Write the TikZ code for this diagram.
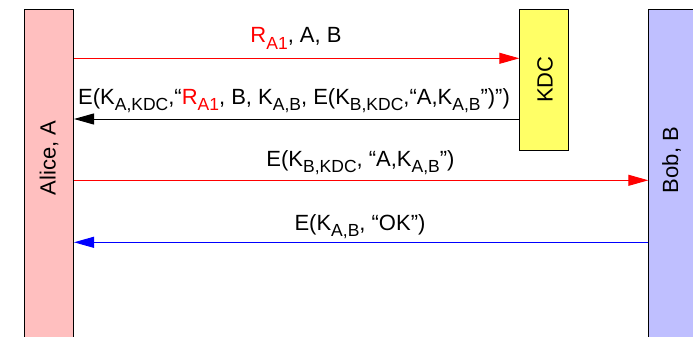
\documentclass[tikz,border=0pt]{standalone}
\usepackage{fontspec}
\setmainfont{Liberation Sans}
\usetikzlibrary{arrows.meta}

\definecolor{alicefill}{RGB}{255,191,191}
\definecolor{kdcfill}{RGB}{255,255,102}
\definecolor{bobfill}{RGB}{191,191,255}
\definecolor{msgred}{RGB}{255,0,0}
\definecolor{msgblue}{RGB}{0,0,255}

% lowered, smaller text used for key subscripts
\newcommand\keysub[1]{\raisebox{-6.8pt}{\fontsize{17.5}{17.5}\selectfont #1}}

\tikzset{
  party/.style={draw=black, line width=1pt, inner sep=0pt, anchor=north west},
  partyname/.style={rotate=90, font=\fontsize{22}{22}\selectfont, inner sep=0pt},
  msg/.style={line width=1pt, -{Triangle[length=20pt,width=11pt]}},
  msglabel/.style={font=\fontsize{22}{22}\selectfont, inner sep=0pt, anchor=base},
}

\begin{document}
\begin{tikzpicture}[x=1pt, y=-1pt]
\useasboundingbox (0,0) rectangle (693,337);
\clip (0,0) rectangle (693,337);

% participants
\node[party, fill=alicefill, minimum width=49.5pt, minimum height=360pt] (alice) at (23.5,9.3) {};
\node[party, fill=kdcfill, minimum width=49pt, minimum height=140.7pt] (kdc) at (519.3,9.3) {};
\node[party, fill=bobfill, minimum width=60pt, minimum height=360pt] (bob) at (648.3,9.3) {};

\node[partyname] (alicename) at (49,158) {Alice, A};
\node[partyname] (kdcname) at (545,79.5) {KDC};
\node[partyname] (bobname) at (671.5,160) {Bob, B};

% message heights
\coordinate (m1) at (0,58.3);
\coordinate (m2) at (0,119);
\coordinate (m3) at (0,180.3);
\coordinate (m4) at (0,242.3);

% messages
\draw[msg, draw=msgred, fill=msgred] (alice.east |- m1) -- (kdc.west |- m1);
\draw[msg, draw=black, fill=black] (kdc.west |- m2) -- (alice.east |- m2);
\draw[msg, draw=msgred, fill=msgred] (alice.east |- m3) -- (bob.west |- m3);
\draw[msg, draw=msgblue, fill=msgblue] (bob.west |- m4) -- (alice.east |- m4);

% message contents
\node[msglabel] (l1) at (296,43) {\textcolor{msgred}{R\keysub{A1}}, A, B};
\node[msglabel] (l2) at (294,104) {E(K\keysub{A,KDC},“\textcolor{msgred}{R\keysub{A1}}, B, K\keysub{A,B}, E(K\keysub{B,KDC},“A,K\keysub{A,B}”)”)};
\node[msglabel] (l3) at (360.5,166) {E(K\keysub{B,KDC}, “A,K\keysub{A,B}”)};
\node[msglabel] (l4) at (360,230) {E(K\keysub{A,B}, “OK”)};
\end{tikzpicture}
\end{document}
